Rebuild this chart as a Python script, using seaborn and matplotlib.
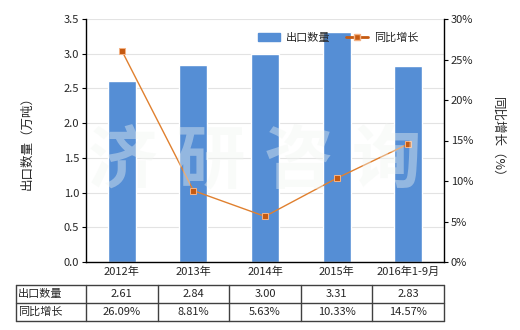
import numpy as np
import pandas as pd
import matplotlib
matplotlib.use("Agg")
import matplotlib.pyplot as plt
import seaborn as sns
from matplotlib.lines import Line2D
from matplotlib.patches import Patch

years = ["2012年", "2013年", "2014年", "2015年", "2016年1-9月"]
qty = [2.61, 2.84, 3.00, 3.31, 2.83]
growth = [26.09, 8.81, 5.63, 10.33, 14.57]
qty_labels = ["2.61", "2.84", "3.00", "3.31", "2.83"]
growth_labels = ["26.09%", "8.81%", "5.63%", "10.33%", "14.57%"]
row_names = ["出口数量", "同比增长"]
watermark = ["济", "研", "咨", "询"]

sns.set_theme(style="white")
plt.rcParams['font.family'] = ['Noto Sans CJK SC', 'DejaVu Sans']

W, H = 520, 330
fig = plt.figure(figsize=(W/100, H/100), dpi=100)

def fx(px): return px / W
def fy(py): return 1 - py / H

L, R, T, B = 86, 444, 19, 262
ax = fig.add_axes([fx(L), fy(B), fx(R) - fx(L), fy(T) - fy(B)])

df = pd.DataFrame({"year": years, "qty": qty, "growth": growth})
bar_color = "#558ED5"
sns.barplot(data=df, x="year", y="qty", ax=ax, color=bar_color, width=0.39,
            saturation=1)
ax.set_xlim(-0.5, 4.5)
ax.set_ylim(0, 3.5)
ticks = np.arange(0, 3.51, 0.5)
ax.set_yticks(ticks)
ax.set_yticklabels([f"{v:.1f}" for v in ticks], fontsize=8)
ax.set_xticks(range(len(years)))
ax.set_xticklabels(years, fontsize=8)
ax.set_xlabel("")
ax.set_ylabel("出口数量（万吨）", fontsize=9, labelpad=22)
ax.yaxis.grid(True, color="#E3E3E3", linewidth=0.8)
ax.set_axisbelow(True)
for s in ["top", "right"]:
    ax.spines[s].set_visible(False)
for s in ["left", "bottom"]:
    ax.spines[s].set_color("black")
    ax.spines[s].set_linewidth(1)
ax.tick_params(axis="y", length=3, width=0.8, color="black", pad=2, left=True)
ax.tick_params(axis="x", length=0, pad=3)

ax2 = ax.twinx()
line_color = "#C55A11"
sns.lineplot(x=np.arange(len(years)), y=growth, ax=ax2, color="#E0802F", linewidth=1,
             marker="s", markersize=5, markerfacecolor=line_color, markeredgecolor="#F4B183")
ax2.set_ylim(0, 30)
ax2.set_yticks(np.arange(0, 31, 5))
ax2.set_yticklabels([f"{v}%" for v in range(0, 31, 5)], fontsize=8)
ax2.set_ylabel("同比增长（%）", fontsize=9, rotation=270, labelpad=22)
for s in ["top", "left", "bottom"]:
    ax2.spines[s].set_visible(False)
ax2.spines["right"].set_color("black")
ax2.spines["right"].set_linewidth(1)
ax2.tick_params(axis="y", length=3, width=0.8, color="black", pad=2, right=True)
ax2.grid(False)

handles = [Patch(color=bar_color),
           Line2D([], [], color=line_color, linewidth=2, marker="s", markersize=4,
                  markerfacecolor=line_color, markeredgecolor="#F4B183")]
fig.legend(handles, ["出口数量", "同比增长"], loc="center", bbox_to_anchor=(fx(338), fy(38)),
           ncol=2, frameon=False, fontsize=8, handlelength=2.0, columnspacing=1.4,
           handletextpad=0.5)

# watermark
for i, ch in enumerate(watermark):
    fig.text(fx(122 + 88 * i), fy(163), ch, fontsize=50, color="#F2F5F2", alpha=0.4,
             ha="center", va="center", fontweight="bold", zorder=10)

# table
tl, tr = 16, 444
rows_y = [285, 303, 321]
col_x = [tl, L] + [L + (R - L) * (i + 1) / 5 for i in range(5)]
col_x[-1] = tr
lc = "#404040"
for y in rows_y:
    fig.add_artist(Line2D([fx(tl), fx(tr)], [fy(y), fy(y)], color=lc, linewidth=1))
for x in col_x:
    fig.add_artist(Line2D([fx(x), fx(x)], [fy(rows_y[0]), fy(rows_y[-1])], color=lc, linewidth=1))
for r, (name, vals) in enumerate(zip(row_names, [qty_labels, growth_labels])):
    yc = (rows_y[r] + rows_y[r + 1]) / 2
    fig.text(fx(tl + 2), fy(yc), name, fontsize=8, ha="left", va="center")
    for i, v in enumerate(vals):
        xc = (col_x[i + 1] + col_x[i + 2]) / 2
        fig.text(fx(xc), fy(yc), v, fontsize=8, ha="center", va="center")

fig.savefig("out.png", dpi=100)
